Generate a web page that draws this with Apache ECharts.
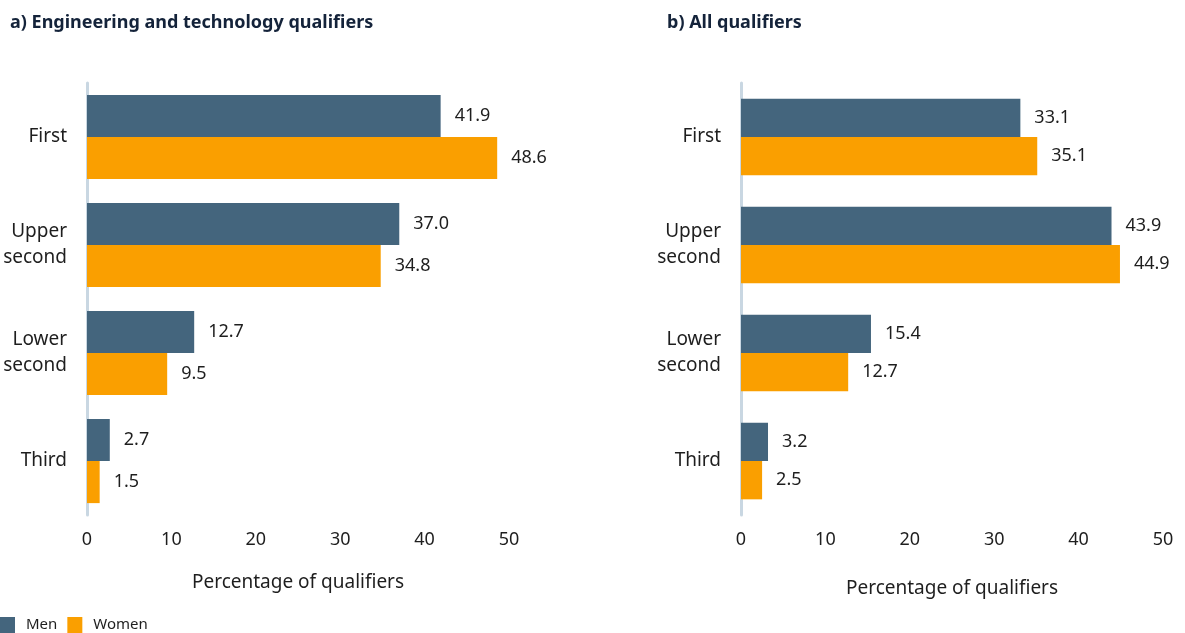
<!DOCTYPE html>
<html>
<head>
<meta charset="utf-8">
<script src="https://cdn.jsdelivr.net/npm/echarts@6/dist/echarts.min.js"></script>
<style>
  html, body { margin: 0; padding: 0; background: #fff; }
  #chart { width: 1185px; height: 633px; }
</style>
</head>
<body>
<div id="chart"></div>
<script>
// data
var categories = ['First', 'Upper\nsecond', 'Lower\nsecond', 'Third']
var engMen = [41.9, 37.0, 12.7, 2.7]
var engWomen = [48.6, 34.8, 9.5, 1.5]
var allMen = [33.1, 43.9, 15.4, 3.2]
var allWomen = [35.1, 44.9, 12.7, 2.5]
var xTicks = [0, 10, 20, 30, 40, 50]
var titles = ['a) Engineering and technology qualifiers', 'b) All qualifiers']

var menColor = '#44657d'
var womenColor = '#fa9f00'
var textColor = '#1e1e1e'
var fontName = '"Noto Sans", sans-serif'

var chart = echarts.init(document.getElementById('chart'))

function xAxisFor(idx, nameGap) {
  return {
    type: 'value',
    gridIndex: idx,
    min: xTicks[0],
    max: xTicks[xTicks.length - 1],
    interval: 10,
    name: 'Percentage of qualifiers',
    nameLocation: 'middle',
    nameGap: nameGap,
    nameTextStyle: { color: textColor, fontSize: 19, fontFamily: fontName },
    axisLine: { show: false },
    axisTick: { show: false },
    splitLine: { show: false },
    axisLabel: { color: textColor, fontSize: 18, fontFamily: fontName, margin: 16 }
  }
}

function yAxisFor(idx) {
  return {
    type: 'category',
    gridIndex: idx,
    data: categories,
    inverse: true,
    axisLine: { show: true, lineStyle: { color: '#c9d7e2', width: 3 } },
    axisTick: { show: false },
    axisLabel: { color: textColor, fontSize: 19, fontFamily: fontName, margin: 20, lineHeight: 26 }
  }
}

// 值标签
var valLabel = {
  show: true,
  position: 'right',
  distance: 14,
  color: textColor,
  fontSize: 18,
  fontFamily: fontName,
  formatter: function (p) { return p.value.toFixed(1) }
}

function barSeries(name, data, color, idx, gap) {
  return {
    name: name,
    type: 'bar',
    xAxisIndex: idx,
    yAxisIndex: idx,
    data: data,
    barGap: '0%',
    barCategoryGap: gap,
    itemStyle: { color: color },
    label: valLabel,
    emphasis: { disabled: true }
  }
}

var titleStyle = { fontSize: 18, fontWeight: 'bold', color: '#14233a', fontFamily: fontName }

var option = {
  animation: false,
  textStyle: { fontFamily: fontName },
  title: [
    { text: titles[0], left: 5, top: 9, textStyle: titleStyle },
    { text: titles[1], left: 662, top: 9, textStyle: titleStyle }
  ],
  legend: {
    left: 0,
    top: 617,
    padding: 0,
    itemWidth: 15,
    itemHeight: 16,
    itemGap: 10,
    icon: 'rect',
    textStyle: { color: textColor, fontSize: 15, fontFamily: fontName, padding: [0, 0, 0, 6] },
    data: ['Men', 'Women']
  },
  grid: [
    { left: 87, width: 422, top: 83, height: 432 },
    { left: 741, width: 422, top: 83, height: 432 }
  ],
  xAxis: [xAxisFor(0, 58), xAxisFor(1, 64)],
  yAxis: [yAxisFor(0), yAxisFor(1)],
  series: [
    barSeries('Men', engMen, menColor, 0, '22%'),
    barSeries('Women', engWomen, womenColor, 0, '22%'),
    barSeries('Men', allMen, menColor, 1, '29%'),
    barSeries('Women', allWomen, womenColor, 1, '29%')
  ]
}

chart.setOption(option)
</script>
</body>
</html>
